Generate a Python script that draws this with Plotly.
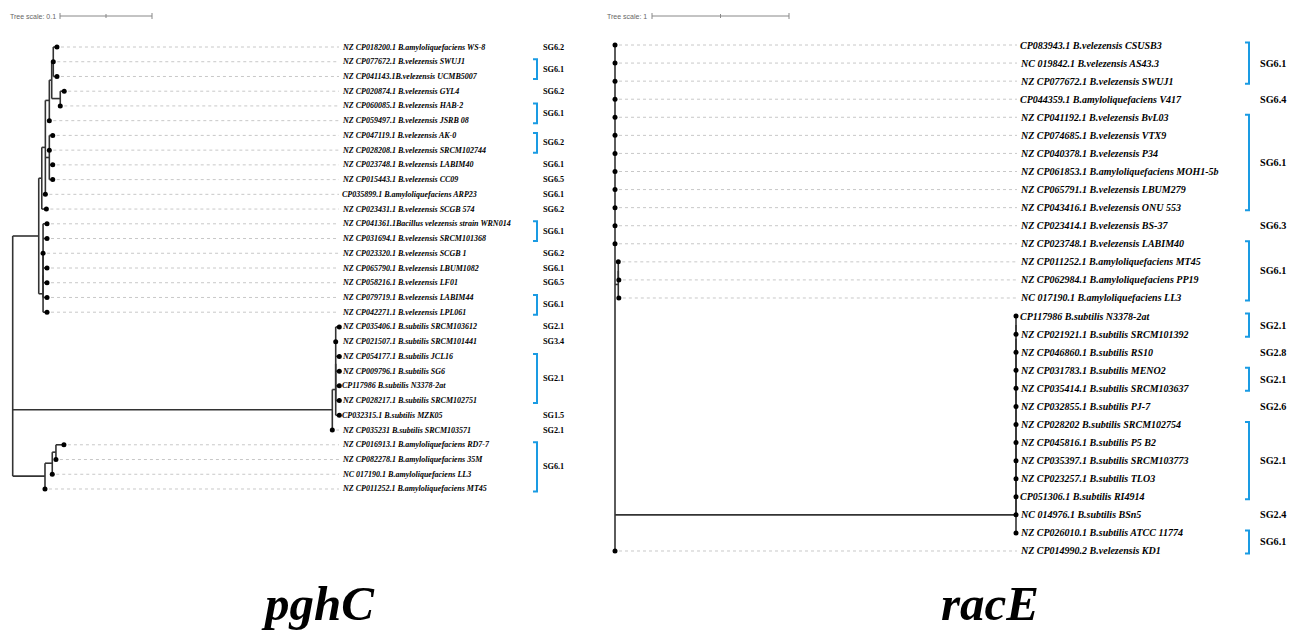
import plotly.graph_objects as go

# ============================ DATA ============================
# pghC tree (left) — leaf labels in row order (top to bottom)
pghc_labels = [
    "NZ CP018200.1 B.amyloliquefaciens WS-8",
    "NZ CP077672.1 B.velezensis SWUJ1",
    "NZ CP041143.1B.velezensis UCMB5007",
    "NZ CP020874.1 B.velezensis GYL4",
    "NZ CP060085.1 B.velezensis HAB-2",
    "NZ CP059497.1 B.velezensis JSRB 08",
    "NZ CP047119.1 B.velezensis AK-0",
    "NZ CP028208.1 B.velezensis SRCM102744",
    "NZ CP023748.1 B.velezensis LABIM40",
    "NZ CP015443.1 B.velezensis CC09",
    "CP035899.1 B.amyloliquefaciens ARP23",
    "NZ CP023431.1 B.velezensis SCGB 574",
    "NZ CP041361.1Bacillus velezensis strain WRN014",
    "NZ CP031694.1 B.velezensis SRCM101368",
    "NZ CP023320.1 B.velezensis SCGB 1",
    "NZ CP065790.1 B.velezensis LBUM1082",
    "NZ CP058216.1 B.velezensis LF01",
    "NZ CP079719.1 B.velezensis LABIM44",
    "NZ CP042271.1 B.velezensis LPL061",
    "NZ CP035406.1 B.subtilis SRCM103612",
    "NZ CP021507.1 B.subtilis SRCM101441",
    "NZ CP054177.1 B.subtilis JCL16",
    "NZ CP009796.1 B.subtilis SG6",
    "CP117986 B.subtilis N3378-2at",
    "NZ CP028217.1 B.subtilis SRCM102751",
    "CP032315.1 B.subtilis MZK05",
    "NZ CP035231 B.subtilis SRCM103571",
    "NZ CP016913.1 B.amyloliquefaciens RD7-7",
    "NZ CP082278.1 B.amyloliquefaciens 35M",
    "NC 017190.1 B.amyloliquefaciens LL3",
    "NZ CP011252.1 B.amyloliquefaciens MT45",
]
# topology + branch lengths (leaf names = row numbers)
pghc_newick = (
    "("
    "((((((1:0.0040,2:0,3:0.0040):0.0017,(4:0.0043,5:0):0.0093):0.0026,6:0):0.0043,"
    "(7:0.0037,8:0,9:0.0037,10:0.0037):0.0043,11:0):0.0039,12:0.0050):0.0033,"
    "(((13:0.0043,14:0.0043,15:0,16:0.0043,17:0.0043):0,18:0.0043):0,19:0.0043):0.0047):0.0283,"
    "(((20:0.0039,21:0,22:0.0039,23:0.0039,24:0.0039,25:0.0039):0,26:0.0039):0.0037,27:0):0.3474,"
    "(((28:0.0087,29:0):0.0040,30:0):0.0079,31:0):0.0351"
    ");"
)
pghc_sg_first = [1, 2, 4, 5, 7, 9, 10, 11, 12, 13, 15, 16, 17, 18, 20, 21, 22, 26, 27, 28]
pghc_sg_last = [1, 3, 4, 6, 8, 9, 10, 11, 12, 14, 15, 16, 17, 19, 20, 21, 25, 26, 27, 31]
pghc_sg_names = ["SG6.2", "SG6.1", "SG6.2", "SG6.1", "SG6.2", "SG6.1", "SG6.5", "SG6.1",
                 "SG6.2", "SG6.1", "SG6.2", "SG6.1", "SG6.5", "SG6.1", "SG2.1", "SG3.4",
                 "SG2.1", "SG1.5", "SG2.1", "SG6.1"]
pghc_scale = 0.1

# racE tree (right)
race_labels = [
    "CP083943.1 B.velezensis CSUSB3",
    "NC 019842.1 B.velezensis AS43.3",
    "NZ CP077672.1 B.velezensis SWUJ1",
    "CP044359.1 B.amyloliquefaciens V417",
    "NZ CP041192.1 B.velezensis BvL03",
    "NZ CP074685.1 B.velezensis VTX9",
    "NZ CP040378.1 B.velezensis P34",
    "NZ CP061853.1 B.amyloliquefaciens MOH1-5b",
    "NZ CP065791.1 B.velezensis LBUM279",
    "NZ CP043416.1 B.velezensis ONU 553",
    "NZ CP023414.1 B.velezensis BS-37",
    "NZ CP023748.1 B.velezensis LABIM40",
    "NZ CP011252.1 B.amyloliquefaciens MT45",
    "NZ CP062984.1 B.amyloliquefaciens PP19",
    "NC 017190.1 B.amyloliquefaciens LL3",
    "CP117986 B.subtilis N3378-2at",
    "NZ CP021921.1 B.subtilis SRCM101392",
    "NZ CP046860.1 B.subtilis RS10",
    "NZ CP031783.1 B.subtilis MENO2",
    "NZ CP035414.1 B.subtilis SRCM103637",
    "NZ CP032855.1 B.subtilis PJ-7",
    "NZ CP028202 B.subtilis SRCM102754",
    "NZ CP045816.1 B.subtilis P5 B2",
    "NZ CP035397.1 B.subtilis SRCM103773",
    "NZ CP023257.1 B.subtilis TLO3",
    "CP051306.1 B.subtilis RI4914",
    "NC 014976.1 B.subtilis BSn5",
    "NZ CP026010.1 B.subtilis ATCC 11774",
    "NZ CP014990.2 B.velezensis KD1",
]
race_newick = (
    "("
    "1:0,2:0,3:0,4:0,5:0,6:0,7:0,8:0,9:0,10:0,11:0,12:0,"
    "((13:0,14:0.004):0,15:0.004):0.024,"
    "((((((((((((16:0,17:0):0,18:0):0,19:0):0,20:0):0,21:0):0,22:0):0,23:0):0,"
    "24:0):0,25:0):0,26:0):0,27:0):0,28:0):2.927,"
    "29:0"
    ");"
)
race_sg_first = [1, 4, 5, 11, 12, 16, 18, 19, 21, 22, 27, 28]
race_sg_last = [3, 4, 10, 11, 15, 17, 18, 20, 21, 26, 27, 29]
race_sg_names = ["SG6.1", "SG6.4", "SG6.1", "SG6.3", "SG6.1", "SG2.1", "SG2.8", "SG2.1",
                 "SG2.6", "SG2.1", "SG2.4", "SG6.1"]
race_scale = 1

# ============================ STYLE / LAYOUT ============================
W, H = 1291, 632
BRANCH = "#333333"
GUIDE = "#c8c8c8"
BRACKET = "#1a9be3"
SERIF = "Liberation Serif, Times New Roman, serif"
SANS = "Liberation Sans, Arial, sans-serif"

panels = [
    dict(newick=pghc_newick, labels=pghc_labels, sg_first=pghc_sg_first, sg_last=pghc_sg_last,
         sg_names=pghc_sg_names, scale=pghc_scale, title="pghC",
         dom=(0, 594), root_px=12.7, ppu=920.0, row0=47.0, step=14.733,
         label_px=341, bracket_px=537, sg_px=541, bar_px=60, bar_y=16, text_px=8,
         label_size=8.0, sg_size=8.2, title_px=318, xa="x", ya="y"),
    dict(newick=race_newick, labels=race_labels, sg_first=race_sg_first, sg_last=race_sg_last,
         sg_names=race_sg_names, scale=race_scale, title="racE",
         dom=(594, 1291), root_px=615.0, ppu=137.0, row0=45.0, step=18.071,
         label_px=1019, bracket_px=1249, sg_px=1258, bar_px=652, bar_y=16, text_px=605,
         label_size=10.0, sg_size=10.2, title_px=990, xa="x2", ya="y2"),
]


def parse_newick(s):
    s = s.strip().rstrip(";")
    pos = 0

    def node():
        nonlocal pos
        n = {"children": [], "name": None, "len": 0.0}
        if s[pos] == "(":
            pos += 1
            while True:
                n["children"].append(node())
                if s[pos] == ",":
                    pos += 1
                    continue
                pos += 1  # ')'
                break
        st = pos
        while pos < len(s) and s[pos] not in ":,()":
            pos += 1
        if s[st:pos]:
            n["name"] = s[st:pos]
        if pos < len(s) and s[pos] == ":":
            pos += 1
            st = pos
            while pos < len(s) and s[pos] not in ",()":
                pos += 1
            n["len"] = float(s[st:pos])
        return n

    return node()


def layout_tree(n, parent_x=0.0):
    n["x"] = parent_x + n["len"]
    if n["children"]:
        for c in n["children"]:
            layout_tree(c, n["x"])
        n["y"] = (n["children"][0]["y"] + n["children"][-1]["y"]) / 2.0
    else:
        n["y"] = float(n["name"])


def collect(n, branches, leaves):
    if n["children"]:
        c0, c1 = n["children"][0], n["children"][-1]
        branches[0] += [n["x"], n["x"], None]
        branches[1] += [c0["y"], c1["y"], None]
        for c in n["children"]:
            if c["x"] > n["x"]:
                branches[0] += [n["x"], c["x"], None]
                branches[1] += [c["y"], c["y"], None]
            collect(c, branches, leaves)
    else:
        leaves.append(n)


fig = go.Figure()
annotations = []
layout_axes = {}

for P in panels:
    ppu, root_px, step, row0 = P["ppu"], P["root_px"], P["step"], P["row0"]
    px2x = lambda p: (p - root_px) / ppu
    px2y = lambda p: 1 + (p - row0) / step
    dx = lambda d: d / ppu
    dy = lambda d: d / step

    tree = parse_newick(P["newick"])
    layout_tree(tree)
    br = [[], []]
    leaves = []
    collect(tree, br, leaves)
    assert len(leaves) == len(P["labels"])

    xa, ya = P["xa"], P["ya"]
    lab_x = px2x(P["label_px"])

    # dotted guides leaf -> label
    gx, gy = [], []
    for lf in leaves:
        x0 = lf["x"] + dx(4)
        x1 = lab_x - dx(2)
        if x1 > x0:
            gx += [x0, x1, None]
            gy += [lf["y"], lf["y"], None]
    fig.add_trace(go.Scatter(x=gx, y=gy, mode="lines", xaxis=xa, yaxis=ya, hoverinfo="skip",
                             line=dict(color=GUIDE, width=1, dash="3px,3px"), showlegend=False))
    # branches
    fig.add_trace(go.Scatter(x=br[0], y=br[1], mode="lines", xaxis=xa, yaxis=ya, hoverinfo="skip",
                             line=dict(color=BRANCH, width=1.6), showlegend=False))
    # leaf dots
    fig.add_trace(go.Scatter(x=[lf["x"] for lf in leaves], y=[lf["y"] for lf in leaves],
                             mode="markers", xaxis=xa, yaxis=ya, hoverinfo="skip",
                             marker=dict(color="black", size=5), showlegend=False))

    # leaf labels
    for lf in leaves:
        annotations.append(dict(x=lab_x, y=lf["y"], xref=xa, yref=ya, xanchor="left",
                                yanchor="middle", showarrow=False, borderpad=0,
                                text="<b><i>" + P["labels"][int(lf["name"]) - 1] + "</i></b>",
                                font=dict(family=SERIF, size=P["label_size"], color="black")))

    # SG brackets + labels
    bx = px2x(P["bracket_px"])
    tick = dx(4)
    ext = dy(2.5)
    kx, ky = [], []
    for a, b, name in zip(P["sg_first"], P["sg_last"], P["sg_names"]):
        if b > a:
            kx += [bx - tick, bx, bx, bx - tick, None]
            ky += [a - ext, a - ext, b + ext, b + ext, None]
        annotations.append(dict(x=px2x(P["sg_px"]), y=(a + b) / 2.0, xref=xa, yref=ya,
                                xanchor="left", yanchor="middle", showarrow=False,
                                text="<b>" + name + "</b>",
                                font=dict(family=SERIF, size=P["sg_size"], color="black")))
    fig.add_trace(go.Scatter(x=kx, y=ky, mode="lines", xaxis=xa, yaxis=ya, hoverinfo="skip",
                             line=dict(color=BRACKET, width=2), showlegend=False))

    # tree scale bar
    sx0 = px2x(P["bar_px"])
    sx1 = sx0 + P["scale"]
    sy = px2y(P["bar_y"])
    t = dy(3)
    t2 = dy(2)
    bxs = [sx0, sx1, None, sx0, sx0, None, sx1, sx1, None, (sx0 + sx1) / 2, (sx0 + sx1) / 2]
    bys = [sy, sy, None, sy - t, sy + t, None, sy - t, sy + t, None, sy - t2, sy + t2]
    fig.add_trace(go.Scatter(x=bxs, y=bys, mode="lines", xaxis=xa, yaxis=ya, hoverinfo="skip",
                             line=dict(color="#888888", width=1), showlegend=False))
    annotations.append(dict(x=px2x(P["text_px"]), y=sy, xref=xa, yref=ya, xanchor="left",
                            yanchor="middle", showarrow=False,
                            text="Tree scale: " + str(P["scale"]),
                            font=dict(family=SANS, size=7, color="#666666")))

    # gene title (box kept fully inside the canvas)
    annotations.append(dict(x=P["title_px"] / W, y=0, xref="paper", yref="paper",
                            xanchor="center", yanchor="bottom", showarrow=False, borderpad=0,
                            text="<b><i>" + P["title"] + "</i></b>",
                            font=dict(family=SERIF, size=49, color="black")))

    xname = "xaxis" if xa == "x" else "xaxis2"
    yname = "yaxis" if ya == "y" else "yaxis2"
    layout_axes[xname] = dict(domain=[P["dom"][0] / W, P["dom"][1] / W],
                              range=[px2x(P["dom"][0]), px2x(P["dom"][1])],
                              visible=False, fixedrange=True, anchor=ya)
    layout_axes[yname] = dict(domain=[0, 1], range=[px2y(H), px2y(0)],
                              visible=False, fixedrange=True, anchor=xa)

fig.update_layout(
    width=W, height=H,
    margin=dict(l=0, r=0, t=0, b=0),
    paper_bgcolor="white", plot_bgcolor="white",
    showlegend=False,
    annotations=annotations,
    **layout_axes,
)

fig.write_html("out.html", config={"displayModeBar": False},
               post_script="document.body.style.margin='0';")
